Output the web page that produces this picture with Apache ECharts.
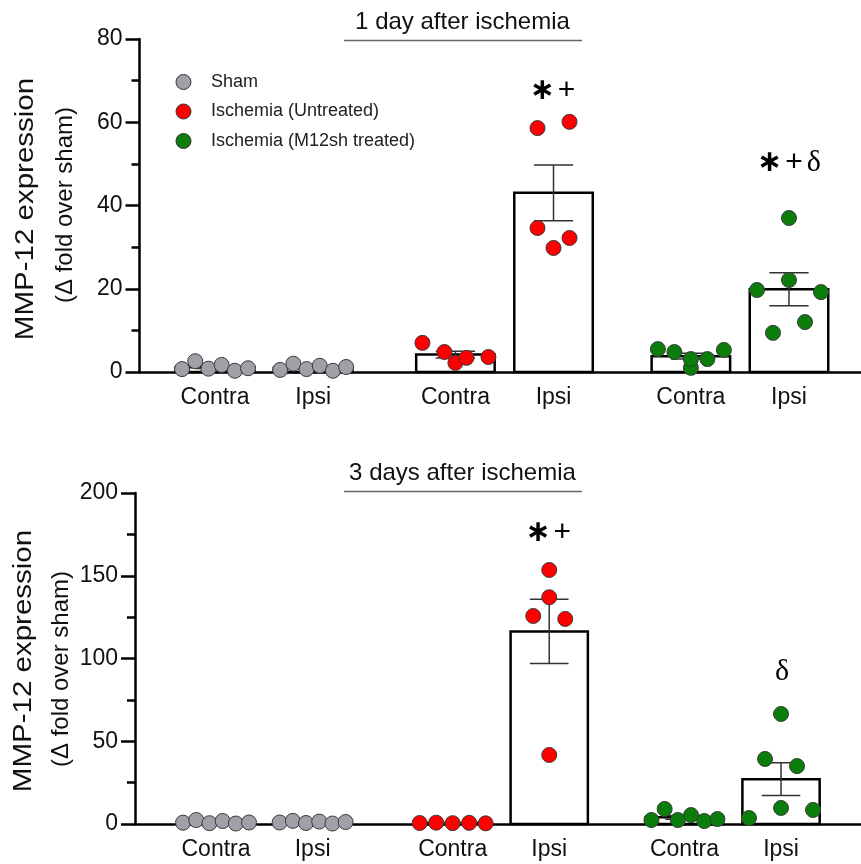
<!DOCTYPE html>
<html lang="en">
<head>
<meta charset="UTF-8">
<title>MMP-12 expression</title>
<script src="https://cdn.jsdelivr.net/npm/echarts@6/dist/echarts.min.js"></script>
<style>
    html, body { margin: 0; background: #fff; }
    #chart { width: 861px; height: 864px; }
</style>
</head>
<body>
<div id="chart"></div>
<script>
    // x tick labels, one per group
    let groupLabels = ['Contra', 'Ipsi', 'Contra', 'Ipsi', 'Contra', 'Ipsi'];
    let seriesNames = ['Sham', 'Ischemia (Untreated)', 'Ischemia (M12sh treated)'];
    // treatment of each group (index into seriesNames)
    let groupSeries = [0, 0, 1, 1, 2, 2];

    // 1 day after ischemia, one list of animals per group
    let day1Values = [
        [0.7, 2.6, 0.8, 1.7, 0.3, 0.9],
        [0.5, 2.0, 0.7, 1.5, 0.3, 1.2],
        [7.0, 2.2, 4.8, 3.4, 3.6],
        [58.6, 60.1, 34.6, 32.2, 29.8],
        [5.5, 4.8, 1.0, 3.1, 3.1, 5.3],
        [37.0, 19.7, 22.1, 19.2, 9.4, 12.0]
    ];
    let day1Ticks = [0, 20, 40, 60, 80];
    let day1Notes = ['', '', '', '*+', '', '*+δ'];
    let day1NoteLevel = [0, 0, 0, 67.5, 0, 50.2];

    // 3 days after ischemia
    let day3Values = [
        [0.8, 2.4, 0.5, 1.8, 0.3, 0.9],
        [0.9, 1.9, 0.6, 1.5, 0.3, 1.2],
        [0.6, 0.8, 0.5, 0.7, 0.4],
        [153.5, 137.0, 125.7, 123.9, 41.7],
        [2.4, 9.1, 2.4, 5.4, 1.8, 3.0],
        [66.5, 39.3, 35.0, 3.6, 9.7, 8.5]
    ];
    let day3Ticks = [0, 50, 100, 150, 200];
    let day3Notes = ['', '', '', '*+', '', 'δ'];
    let day3NoteLevel = [0, 0, 0, 176, 0, 92];

    let dotColors = ['#a0a0a8', '#ff0000', '#0a7d0a'];

    // layout
    let xPos = [1, 2, 3.45, 4.45, 5.85, 6.85];
    let barHalf = 0.4, capHalf = 0.2, dotR = 7.5;
    let rowH = 16, maxStep = 32, maxSpread = 66;
    let font = "'Liberation Sans', Arial, sans-serif";

    let panels = [
        { values: day1Values, ticks: day1Ticks, notes: day1Notes, levels: day1NoteLevel, title: '1 day after ischemia',
          top: 39, height: 333, left: 139.5, xMin: 0.23, xMax: 7.584, titleY: 22, nameY: [209, 205], nameX: [26, 65] },
        { values: day3Values, ticks: day3Ticks, notes: day3Notes, levels: day3NoteLevel, title: '3 days after ischemia',
          top: 493, height: 331, left: 135, xMin: 0.161, xMax: 7.678, titleY: 473, nameY: [661, 669], nameX: [24, 61] }
    ];

    let mean = (a) => a.reduce((s, v) => s + v, 0) / a.length;
    let sem = (a) => {
        let m = mean(a);
        let v = a.reduce((s, x) => s + (x - m) * (x - m), 0) / (a.length - 1);
        return Math.sqrt(v / a.length);
    };

    // scatter-dot layout: dots close in height share a row and are spread sideways
    let rowLayout = (ys) => {
        let order = ys.map((y, i) => i).sort((a, b) => ys[a] - ys[b]);
        let xs = [];
        let k = 0;
        while (k < order.length) {
            let row = [order[k]];
            let j = k + 1;
            while (j < order.length && ys[order[j]] - ys[order[k]] < rowH) {
                row.push(order[j]);
                j++;
            }
            row.sort((a, b) => a - b);
            let n = row.length;
            let step = n > 1 ? Math.min(maxStep, maxSpread / (n - 1)) : 0;
            row.forEach((idx, m) => { xs[idx] = (m - (n - 1) / 2) * step; });
            k = j;
        }
        return xs;
    };

    let noteRich = {
        s: { fontFamily: 'DejaVu Sans', fontWeight: 'bold', fontSize: 30, padding: [0, 1, 0, 0] },
        p: { fontFamily: font, fontSize: 30, padding: [0, 2] },
        d: { fontFamily: 'Liberation Serif', fontSize: 30, padding: [0, 0, 0, 2] }
    };
    let toRich = (t) => t.split('').map((c) => c === '*' ? '{s|∗}' : c === '+' ? '{p|+}' : '{d|δ}').join('');

    let grids = [], xAxes = [], yAxes = [], series = [], graphics = [];

    panels.forEach((p, k) => {
        grids.push({ left: p.left, right: 0, top: p.top, height: p.height });
        xAxes.push({
            type: 'value', gridIndex: k, min: p.xMin, max: p.xMax,
            axisLine: { show: true, onZero: false, lineStyle: { color: '#000', width: 2.5 } },
            axisTick: { show: false }, axisLabel: { show: false }, splitLine: { show: false }
        });
        yAxes.push({
            type: 'value', gridIndex: k, min: p.ticks[0], max: p.ticks[p.ticks.length - 1],
            interval: p.ticks[1] - p.ticks[0],
            axisLine: { show: true, lineStyle: { color: '#000', width: 2.5 } },
            axisTick: { show: true, length: 14, lineStyle: { color: '#000', width: 2.5 } },
            minorTick: { show: true, splitNumber: 2, length: 8, lineStyle: { color: '#000', width: 2.5 } },
            axisLabel: { fontSize: 23, color: '#111', margin: 17, fontFamily: font },
            splitLine: { show: false }
        });

        // bars + error bars
        series.push({
            type: 'custom', xAxisIndex: k, yAxisIndex: k, z: 2, silent: true,
            data: p.values.map((vs, g) => [xPos[g], mean(vs), sem(vs)]),
            renderItem: (params, api) => {
                let x = api.value(0), m = api.value(1), s = api.value(2);
                let tl = api.coord([x - barHalf, m]), br = api.coord([x + barHalf, 0]);
                let hi = api.coord([x, m + s]), lo = api.coord([x, m - s]);
                let cl = api.coord([x - capHalf, 0])[0], cr = api.coord([x + capHalf, 0])[0];
                let err = { stroke: '#333', lineWidth: 1.5 };
                return {
                    type: 'group', children: [
                        { type: 'rect', shape: { x: tl[0], y: tl[1], width: br[0] - tl[0], height: br[1] - tl[1] },
                          style: { fill: '#fff', stroke: '#000', lineWidth: 2.5 } },
                        { type: 'line', shape: { x1: hi[0], y1: hi[1], x2: lo[0], y2: lo[1] }, style: err },
                        { type: 'line', shape: { x1: cl, y1: hi[1], x2: cr, y2: hi[1] }, style: err },
                        { type: 'line', shape: { x1: cl, y1: lo[1], x2: cr, y2: lo[1] }, style: err }
                    ]
                };
            }
        });

        // dots, one series per treatment
        seriesNames.forEach((name, s) => {
            let data = [];
            p.values.forEach((vs, g) => {
                if (groupSeries[g] !== s) return;
                vs.forEach((v, i) => data.push([xPos[g], v, g, i]));
            });
            series.push({
                type: 'custom', name: name, xAxisIndex: k, yAxisIndex: k, z: 4,
                itemStyle: { color: dotColors[s], borderColor: '#333', borderWidth: 1 },
                data: data,
                renderItem: (params, api) => {
                    let g = api.value(2), i = api.value(3);
                    let ys = p.values[g].map((v) => api.coord([xPos[g], v])[1]);
                    let cx = api.coord([xPos[g], 0])[0];
                    let offs = rowLayout(ys);
                    return {
                        type: 'circle', shape: { cx: cx + offs[i], cy: ys[i], r: dotR },
                        style: { fill: dotColors[s], stroke: '#3a3a3a', lineWidth: 1 }
                    };
                }
            });
        });

        // group labels under the axis
        series.push({
            type: 'custom', xAxisIndex: k, yAxisIndex: k, z: 5, silent: true,
            data: groupLabels.map((t, g) => [xPos[g], 0, g]),
            renderItem: (params, api) => {
                let c = api.coord([api.value(0), 0]);
                return {
                    type: 'text',
                    style: { text: groupLabels[api.value(2)], x: c[0], y: c[1] + 26, align: 'center', verticalAlign: 'middle',
                             font: '23px ' + font, fill: '#111' }
                };
            }
        });

        // significance marks
        series.push({
            type: 'custom', xAxisIndex: k, yAxisIndex: k, z: 5, silent: true,
            data: p.notes.map((t, g) => [xPos[g], p.levels[g], g]).filter((d) => p.notes[d[2]]),
            renderItem: (params, api) => {
                let c = api.coord([api.value(0), api.value(1)]);
                return {
                    type: 'text',
                    style: { text: toRich(p.notes[api.value(2)]), rich: noteRich, x: c[0], y: c[1],
                             align: 'center', verticalAlign: 'middle', fill: '#000' }
                };
            }
        });

        // panel title with underline, y axis names
        graphics.push(
            { type: 'text', x: 462.5, y: p.titleY, style: { text: p.title, font: '24px ' + font, fill: '#111',
              align: 'center', verticalAlign: 'middle' } },
            { type: 'line', shape: { x1: 344, y1: p.titleY + 18.5, x2: 582, y2: p.titleY + 18.5 },
              style: { stroke: '#666', lineWidth: 1.5 } },
            { type: 'text', x: p.nameX[0], y: p.nameY[0], rotation: Math.PI / 2, scaleX: 1.18,
              style: { text: 'MMP-12 expression', font: '25px ' + font, fill: '#111', align: 'center', verticalAlign: 'middle' } },
            { type: 'text', x: p.nameX[1], y: p.nameY[1], rotation: Math.PI / 2,
              style: { text: '(Δ fold over sham)', font: '24px ' + font, fill: '#111', align: 'center', verticalAlign: 'middle' } }
        );
    });

    let chart = echarts.init(document.getElementById('chart'));
    chart.setOption({
        animation: false,
        backgroundColor: '#fff',
        grid: grids,
        xAxis: xAxes,
        yAxis: yAxes,
        legend: {
            data: seriesNames, orient: 'vertical', left: 170.5, top: 67,
            icon: 'circle', itemWidth: 45, itemHeight: 15, itemGap: 9.5,
            textStyle: { fontSize: 18, color: '#222', fontFamily: font, lineHeight: 20 },
            itemStyle: { borderColor: '#333', borderWidth: 1 }
        },
        graphic: graphics,
        series: series
    });
</script>
</body>
</html>
